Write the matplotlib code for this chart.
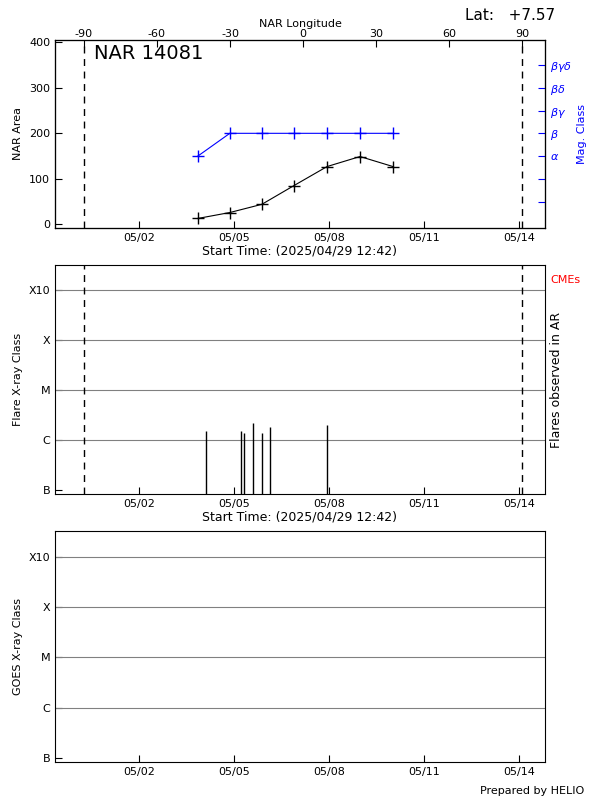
import matplotlib
matplotlib.use("Agg")
import matplotlib.pyplot as plt

# days relative to 2025-05-01 00:00
x_start, x_end = -1.65, 13.82
date_ticks = [1, 4, 7, 10, 13]
date_labels = ["05/02", "05/05", "05/08", "05/11", "05/14"]
limb_days = [-0.74, 13.09]

area_days = [2.86, 3.87, 4.88, 5.89, 6.94, 7.98, 9.02]
area_vals = [13, 26, 44, 85, 127, 149, 127]
mag_vals = [150, 200, 200, 200, 200, 200, 200]
mag_ticks = [150, 200, 250, 300, 350]
mag_labels = [r"$\alpha$", r"$\beta$", r"$\beta\gamma$", r"$\beta\delta$", r"$\beta\gamma\delta$"]

lon_ticks = [-90, -60, -30, 0, 30, 60, 90]
lon0_day = 6.18
deg_per_day = 13.01

flare_days = [3.12, 4.22, 4.32, 4.60, 4.88, 5.14, 6.94]
flare_logflux = [-5.82, -5.82, -5.86, -5.66, -5.86, -5.74, -5.70]

cls_pos = [-7, -6, -5, -4, -3]
cls_labels = ["B", "C", "M", "X", "X10"]

plt.rcParams["font.size"] = 8
fig = plt.figure(figsize=(6, 8), dpi=100)

def px(l, t, r, b):
    return [l/600, 1-b/800, (r-l)/600, (b-t)/800]

def date_axis(ax):
    ax.set_xlim(x_start, x_end)
    ax.set_xticks(date_ticks)
    ax.set_xticklabels(date_labels)
    ax.tick_params(direction="in", length=5, top=False)

# panel 1
ax1 = fig.add_axes(px(55, 40, 545, 228))
date_axis(ax1)
ax1.set_ylim(-8, 405)
ax1.set_yticks([0, 100, 200, 300, 400])
ax1.set_ylabel("NAR Area")
ax1.set_xlabel("Start Time: (2025/04/29 12:42)", labelpad=1, fontsize=9)
for d in limb_days:
    ax1.axvline(d, color="k", ls=(0, (5, 4)), lw=1)
ax1.plot(area_days, area_vals, "k-+", ms=8, lw=0.8)
ax1.plot(area_days, mag_vals, "-+", color="blue", ms=8, lw=0.8)
ax1.text(0.08, 0.9, "NAR 14081", transform=ax1.transAxes, fontsize=14)
axr = ax1.twinx()
axr.set_ylim(ax1.get_ylim())
axr.set_yticks([50, 100] + mag_ticks)
axr.set_yticklabels(["", ""] + mag_labels, color="blue")
axr.tick_params(direction="in", colors="blue", length=5)
axr.set_ylabel("Mag. Class", color="blue")
axt = ax1.twiny()
axt.set_xlim(ax1.get_xlim())
axt.set_xticks([lon0_day + l/deg_per_day for l in lon_ticks])
axt.set_xticklabels([str(l) for l in lon_ticks])
axt.tick_params(direction="in", length=5, pad=1)
axt.set_xlabel("NAR Longitude", labelpad=1)
fig.text(0.775, 0.975, "Lat:   +7.57", fontsize=11)

def class_axis(ax, label):
    date_axis(ax)
    ax.set_ylim(-7.08, -2.49)
    ax.set_yticks(cls_pos)
    ax.set_yticklabels(cls_labels)
    ax.set_ylabel(label)
    for c in cls_pos[1:]:
        ax.axhline(c, color="gray", lw=0.8)

ax2 = fig.add_axes(px(55, 265, 545, 494))
class_axis(ax2, "Flare X-ray Class")
ax2.set_xlabel("Start Time: (2025/04/29 12:42)", labelpad=1, fontsize=9)
for d in limb_days:
    ax2.axvline(d, color="k", ls=(0, (5, 4)), lw=1)
ax2.vlines(flare_days, -7.08, flare_logflux, color="k", lw=1)
ax2.text(1.01, 0.5, "Flares observed in AR", transform=ax2.transAxes, rotation=90,
         va="center", fontsize=9)
ax2.text(1.01, 0.92, "CMEs", transform=ax2.transAxes, color="red", fontsize=8)

ax3 = fig.add_axes(px(55, 531, 545, 762))
class_axis(ax3, "GOES X-ray Class")
fig.text(0.80, 0.008, "Prepared by HELIO", fontsize=8)

fig.savefig("out.png", dpi=100)
